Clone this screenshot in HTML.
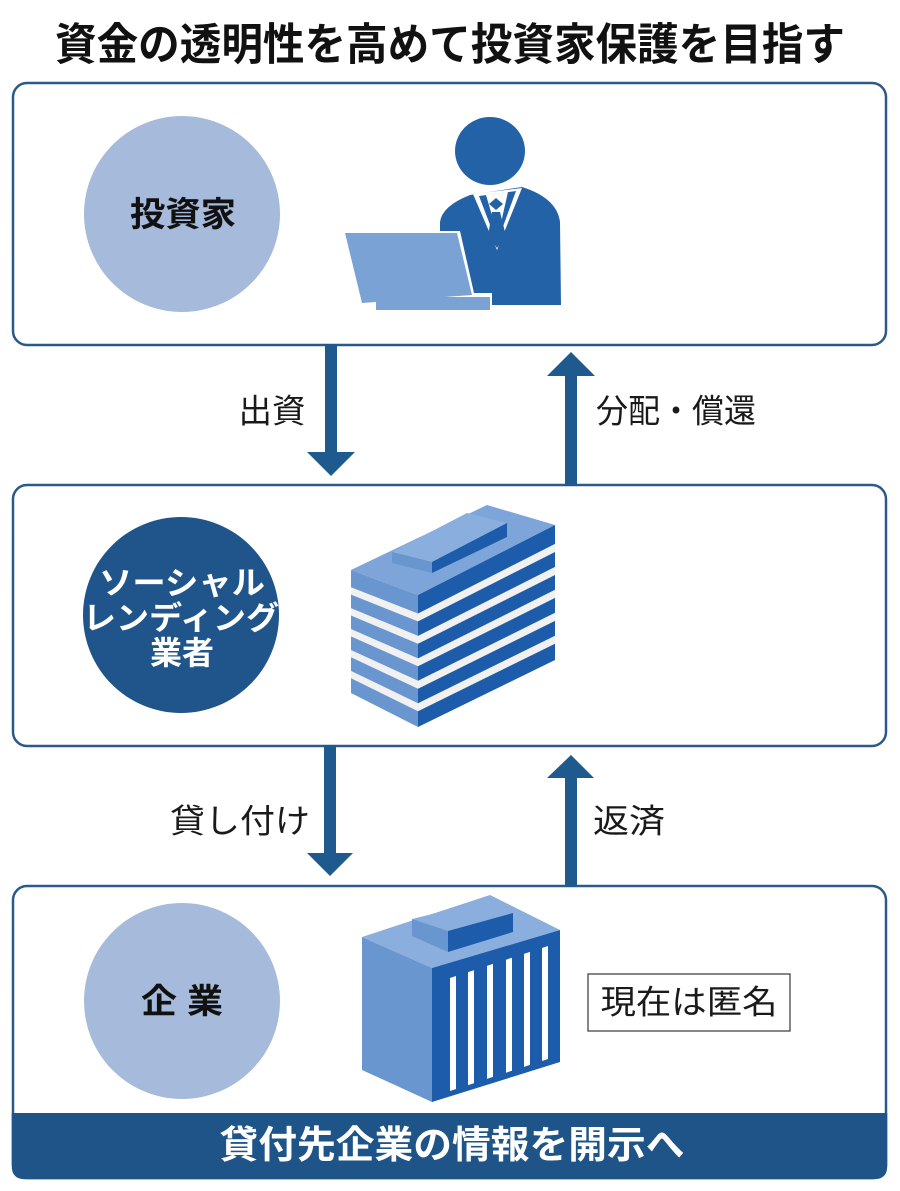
<!DOCTYPE html>
<html><head><meta charset="utf-8"><style>
html,body{margin:0;padding:0;background:#fff;}
svg{display:block;}
text{font-family:"Liberation Sans","Noto Sans CJK JP",sans-serif;}
</style></head><body>
<svg width="900" height="1191" viewBox="0 0 900 1191" xmlns="http://www.w3.org/2000/svg">
<rect width="900" height="1191" fill="#fff"/>
<!-- Title -->
<text x="450" y="45" font-size="44" font-weight="700" fill="#111" text-anchor="middle" dominant-baseline="central" textLength="790" lengthAdjust="spacingAndGlyphs">資金の透明性を高めて投資家保護を目指す</text>

<!-- Boxes -->
<rect x="13" y="83" width="873" height="262" rx="14" fill="#fff" stroke="#2a5a8a" stroke-width="2.5"/>
<rect x="13" y="485" width="873" height="261" rx="14" fill="#fff" stroke="#2a5a8a" stroke-width="2.5"/>
<rect x="13" y="886" width="873" height="292" rx="14" fill="#fff" stroke="#2a5a8a" stroke-width="2.5"/>
<path d="M11.75,1113 H887.25 V1166 Q887.25,1179.25 874,1179.25 H25 Q11.75,1179.25 11.75,1166 Z" fill="#1e5487"/>
<text x="452" y="1146" font-size="38" font-weight="700" fill="#fff" text-anchor="middle" dominant-baseline="central" textLength="465" lengthAdjust="spacingAndGlyphs">貸付先企業の情報を開示へ</text>

<!-- Arrows -->
<g fill="#1f5a8e">
<rect x="325" y="344" width="12" height="110"/>
<polygon points="307,452 355,452 331,476"/>
<rect x="565" y="374" width="12" height="112"/>
<polygon points="547,376 595,376 571,352"/>
<rect x="324" y="745" width="12" height="110"/>
<polygon points="307,853 353,853 330,876"/>
<rect x="565" y="776" width="12" height="111"/>
<polygon points="547,778 594,778 571,755"/>
</g>
<g font-size="33" fill="#1a1a1a" dominant-baseline="central">
<text x="272" y="411" text-anchor="middle" textLength="67" lengthAdjust="spacingAndGlyphs">出資</text>
<text x="676" y="411" text-anchor="middle" textLength="160" lengthAdjust="spacingAndGlyphs">分配・償還</text>
<text x="240" y="821" text-anchor="middle" textLength="140" lengthAdjust="spacingAndGlyphs">貸し付け</text>
<text x="629" y="821" text-anchor="middle" textLength="72" lengthAdjust="spacingAndGlyphs">返済</text>
</g>

<!-- Circles -->
<circle cx="182" cy="214" r="98" fill="#a6badb"/>
<text x="183" y="215" font-size="34" font-weight="700" fill="#111" text-anchor="middle" dominant-baseline="central" textLength="106" lengthAdjust="spacingAndGlyphs">投資家</text>
<circle cx="181" cy="615" r="98" fill="#1f558b"/>
<g font-size="32" font-weight="700" fill="#fff" text-anchor="middle" dominant-baseline="central">
<text x="182" y="583" textLength="166" lengthAdjust="spacingAndGlyphs">ソーシャル</text>
<text x="181" y="618" textLength="196" lengthAdjust="spacingAndGlyphs">レンディング</text>
<text x="182" y="653" textLength="64" lengthAdjust="spacingAndGlyphs">業者</text>
</g>
<circle cx="182" cy="1001" r="98" fill="#a6badb"/>
<text x="182" y="1002" font-size="34" font-weight="700" fill="#111" text-anchor="middle" dominant-baseline="central" textLength="82" lengthAdjust="spacingAndGlyphs">企 業</text>

<!-- Person -->
<g>
<ellipse cx="490" cy="151" rx="35" ry="34" fill="#2462a8"/>
<path d="M440,305 L440,222 Q442,206 470,195 L522,187 Q557,198 560,222 L561,305 Z" fill="#2462a8"/>
<polygon points="473,194 522,188 497,250" fill="#fff"/>
<polygon points="479,196 516,191 497,243" fill="#2462a8"/>
<polygon points="486,195 508,192 498,236" fill="#fff"/>
<polygon points="489,204 496,198 503,204 496,210" fill="#2462a8"/>
<polygon points="492,212 500,212 506,236 497,248 488,236" fill="#2462a8"/>
<polygon points="343,231 460,231 474,293 492,293 492,312 375,312 375,305 360,305" fill="#fff"/>
<polygon points="345,233 457,233 472,295 362,303" fill="#7ba2d4"/>
<rect x="376" y="297" width="114" height="13" fill="#7ba2d4"/>
</g>

<!-- Building 1 -->
<g>
<polygon points="351,570 487,505 555,525 418,595" fill="#7da5da"/>
<polygon points="351,570 418,595 418,727 351,693" fill="#6a96cf"/>
<polygon points="418,595 555,525 555,660 418,727" fill="#1d5cab"/>
<g fill="#f1f1f1">
<polygon points="351,587.2 418,613.5 555,543.9 555,552 418,621.4 351,594.6"/>
<polygon points="351,608.1 418,635.9 555,566.9 555,575 418,643.8 351,615.5"/>
<polygon points="351,629 418,658.4 555,589.8 555,597.9 418,666.3 351,636.4"/>
<polygon points="351,650 418,680.8 555,612.8 555,620.9 418,688.7 351,657.3"/>
<polygon points="351,670.9 418,703.2 555,635.7 555,643.8 418,711.2 351,678.2"/>
</g>
<polygon points="392,552 432,562 507,523 467,513" fill="#8aaedd"/>
<polygon points="392,552 432,562 432,573 392,563" fill="#6a96cf"/>
<polygon points="432,562 507,523 507,537 432,573" fill="#1d5cab"/>
</g>

<!-- Building 2 -->
<g>
<polygon points="362,937 490,895 560,930 432,968" fill="#8aaedd"/>
<polygon points="362,937 432,968 432,1102 362,1070" fill="#6a96cf"/>
<polygon points="432,968 560,930 560,1062 432,1102" fill="#1d5cab"/>
<g fill="#fff">
<polygon points="450,978 456,976 456,1089 450,1091"/>
<polygon points="468,972.1 474,970.2 474,1083.2 468,1085.1"/>
<polygon points="487,965.9 493,963.9 493,1076.9 487,1078.9"/>
<polygon points="506,959.7 512,957.7 512,1070.7 506,1072.7"/>
<polygon points="524,953.9 530,951.9 530,1064.9 524,1066.9"/>
<polygon points="542,948 548,946 548,1059 542,1061"/>
</g>
<polygon points="412,919 448,931 513,913 477,903" fill="#8aaedd"/>
<polygon points="412,919 448,931 448,952 412,936" fill="#6a96cf"/>
<polygon points="448,931 513,913 513,932 448,952" fill="#1d5cab"/>
</g>

<!-- Anonymous box -->
<rect x="588" y="974" width="202" height="57" fill="#fff" stroke="#444" stroke-width="1.3"/>
<text x="689" y="1002" font-size="33" fill="#1a1a1a" text-anchor="middle" dominant-baseline="central" textLength="177" lengthAdjust="spacingAndGlyphs">現在は匿名</text>
</svg>
</body></html>
